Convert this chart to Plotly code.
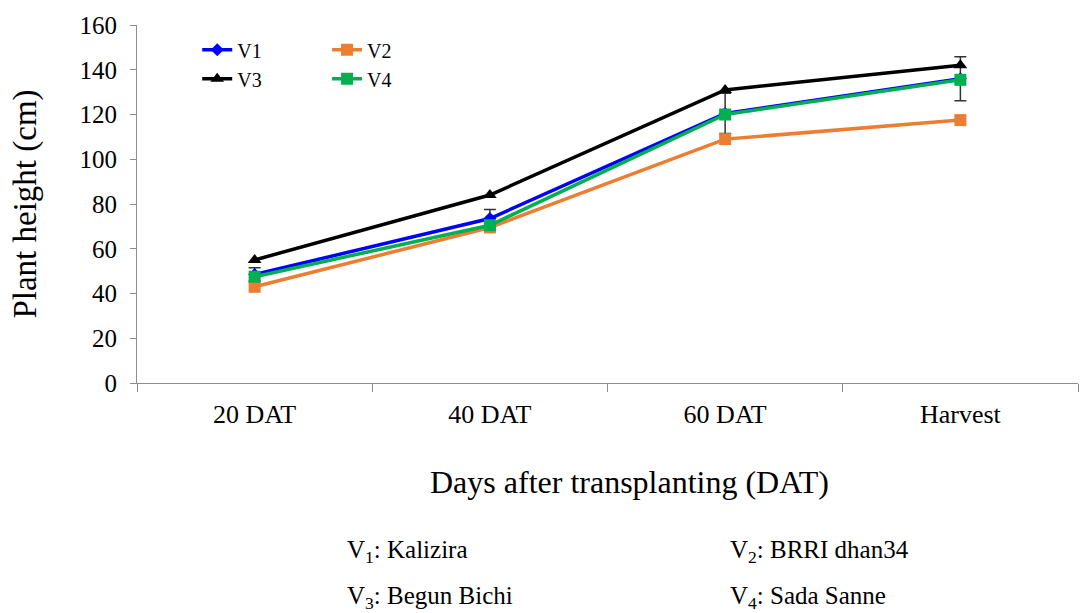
import plotly.graph_objects as go

categories = ["20 DAT", "40 DAT", "60 DAT", "Harvest"]
v1 = [48.5, 73.5, 120.5, 136.0]
v2 = [43.0, 69.5, 109.0, 117.5]
v3 = [55.0, 84.0, 131.0, 142.0]
v4 = [47.5, 70.5, 120.0, 135.5]
v1_err = [3.0, 4.0, 9.0, 9.8]

FONT = "Liberation Serif"

fig = go.Figure()
fig.add_trace(go.Scatter(x=categories, y=v1, name="V1", mode="lines+markers",
                         line=dict(color="#0000FF", width=3.5),
                         marker=dict(symbol="diamond", size=10, color="#0000FF"),
                         error_y=dict(type="data", array=v1_err, color="#333333", thickness=1.5, width=6),
                         legend="legend"))
fig.add_trace(go.Scatter(x=categories, y=v2, name="V2", mode="lines+markers",
                         line=dict(color="#ED7D31", width=3.5),
                         marker=dict(symbol="square", size=12, color="#ED7D31"),
                         legend="legend2"))
fig.add_trace(go.Scatter(x=categories, y=v3, name="V3", mode="lines+markers",
                         line=dict(color="#000000", width=3.5),
                         marker=dict(symbol="triangle-up", size=12, color="#000000"),
                         legend="legend"))
fig.add_trace(go.Scatter(x=categories, y=v4, name="V4", mode="lines+markers",
                         line=dict(color="#00B050", width=3.5),
                         marker=dict(symbol="square", size=12, color="#00B050"),
                         legend="legend2"))

legend_common = dict(font=dict(family=FONT, size=20, color="#000"), bgcolor="rgba(0,0,0,0)",
                     tracegroupgap=0, itemwidth=30, xanchor="left", yanchor="top",
                     traceorder="normal")
fig.update_layout(
    width=1081, height=613,
    margin=dict(l=137, r=3, t=25, b=230),
    plot_bgcolor="white", paper_bgcolor="white",
    font=dict(family=FONT, color="#000"),
    legend=dict(x=0.064, y=0.985, **legend_common),
    legend2=dict(x=0.202, y=0.985, **legend_common),
    xaxis=dict(
        type="category", range=[-0.5, 3.5], tickson="boundaries",
        showline=True, linecolor="#8c8c8c", linewidth=1,
        ticks="outside", ticklen=8, tickcolor="#8c8c8c",
        ticklabelstandoff=8,
        showgrid=False, zeroline=False,
        tickfont=dict(family=FONT, size=26, color="#000"),
    ),
    yaxis=dict(
        range=[0, 160], dtick=20,
        showline=True, linecolor="#8c8c8c", linewidth=1,
        ticks="outside", ticklen=6, tickcolor="#8c8c8c",
        ticklabelstandoff=8,
        showgrid=False, zeroline=False,
        tickfont=dict(family=FONT, size=25, color="#000"),
        title=dict(text="Plant height (cm)", font=dict(family=FONT, size=33, color="#000"), standoff=32),
    ),
)

PW, PH = 1081 - 137 - 3, 613 - 230 - 25


def px_to_paper(px, py):
    return (px - 137) / PW, (613 - 230 - py) / PH


tx, ty = px_to_paper(629, 482)
fig.add_annotation(text="Days after transplanting (DAT)", xref="paper", yref="paper",
                   x=tx, y=ty, xanchor="center", yanchor="middle", showarrow=False,
                   font=dict(family=FONT, size=32, color="#000"))

notes = [("V<sub>1</sub>: Kalizira", 345, 551), ("V<sub>2</sub>: BRRI dhan34", 728, 551),
         ("V<sub>3</sub>: Begun Bichi", 345, 597), ("V<sub>4</sub>: Sada Sanne", 728, 597)]
for text, px, py in notes:
    nx, ny = px_to_paper(px, py)
    fig.add_annotation(text=text, xref="paper", yref="paper",
                       x=nx, y=ny, xanchor="left", yanchor="middle", showarrow=False,
                       font=dict(family=FONT, size=25, color="#000"))

fig.write_html("out.html")
